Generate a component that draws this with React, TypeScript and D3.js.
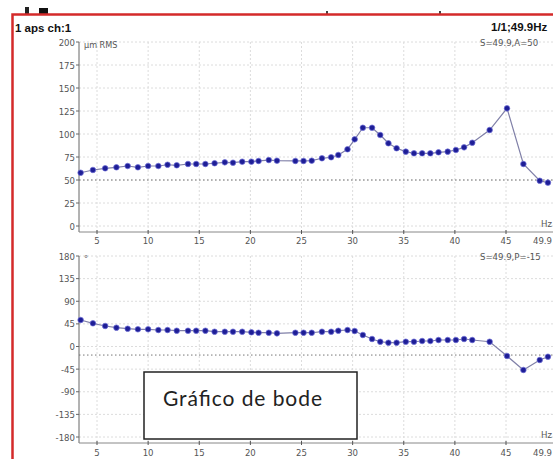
import React from "react";
import * as d3 from "d3";

const freqs = [3.4,4.6,5.8,6.9,8.0,9.0,10.0,11.0,11.9,12.8,13.9,14.7,15.6,16.5,17.5,18.3,19.2,20.1,20.8,21.8,22.6,24.4,25.2,26.0,27.0,27.9,28.6,29.5,30.2,31.0,31.9,32.7,33.5,34.3,35.2,36.0,36.8,37.6,38.4,39.3,40.1,40.9,41.7,43.4,45.1,46.7,48.3,49.1];
const amplitude = [57.9,60.9,62.7,63.8,65.2,63.8,65.2,65.2,66.6,66.0,67.4,67.4,67.4,68.2,69.2,68.8,69.9,69.9,70.7,71.7,71.0,70.7,70.7,71.0,73.6,74.7,77.2,83.4,94.2,106.8,106.8,98.9,89.9,84.5,80.8,79.0,79.0,79.0,80.1,80.8,82.6,85.5,90.5,104.3,127.9,67.4,49.2,47.1];
const phase = [52.7,46.1,40.8,37.4,35.4,34.2,34.2,32.8,32.8,31.4,31.4,31.4,31.4,29.4,29.4,29.4,29.4,28.2,27.4,27.4,26.2,27.4,27.4,27.4,29.4,29.4,31.4,32.8,30.8,22.9,14.9,9.5,7.6,7.6,9.5,9.5,10.9,10.9,12.9,12.9,12.9,14.9,12.9,9.5,-18.9,-46.7,-26.8,-20.3];
const xTicks = [5,10,15,20,25,30,35,40,45,49.9];
const xTickLabels = ["5","10","15","20","25","30","35","40","45","49.9"];
const ampTicks = [0,25,50,75,100,125,150,175,200];
const phaseTicks = [-180,-135,-90,-45,0,45,90,135,180];
const ampRef = 50;
const phaseRef = -17;

const AXIS_FONT = "'Liberation Sans Narrow', 'DejaVu Sans Condensed', Arial, sans-serif";

function Panel({ values, ticks, yRange, axisY, unit, refVal, info, labelY }: any) {
  const x = d3.scaleLinear().domain([5, 45]).range([97, 506]);
  const y = d3.scaleLinear().domain([ticks[0], ticks[ticks.length - 1]]).range(yRange);
  const left = 79;
  const right = 553;
  const top = yRange[1];
  const line = d3.line<number>().x((_, i) => x(freqs[i])).y((d) => y(d));
  return (
    <g>
      {xTicks.map((t) => (
        <line key={"gx" + t} x1={x(t)} x2={x(t)} y1={top} y2={axisY} stroke="#dcdcdc" strokeDasharray="2 2" />
      ))}
      {ticks.map((t: number) => (
        <line key={"gy" + t} x1={left} x2={right} y1={y(t)} y2={y(t)} stroke="#dcdcdc" strokeDasharray="2 2" />
      ))}
      <line x1={left} x2={right} y1={y(refVal)} y2={y(refVal)} stroke="#777" strokeDasharray="1.5 2.5" />
      <line x1={left} x2={left} y1={top} y2={axisY} stroke="#666" />
      <line x1={left} x2={right} y1={axisY} y2={axisY} stroke="#888" />
      {ticks.map((t: number) => (
        <g key={"ty" + t}>
          <line x1={left - 3} x2={left} y1={y(t)} y2={y(t)} stroke="#666" />
          <text x={left - 4} y={y(t) + 3.5} textAnchor="end" fontSize={9.5} fill="#555" fontFamily={AXIS_FONT}>{t}</text>
        </g>
      ))}
      {xTicks.map((t, i) => {
        const last = i === xTicks.length - 1;
        return (
          <g key={"tx" + t}>
            <line x1={x(t)} x2={x(t)} y1={axisY - 2} y2={axisY + 2} stroke="#555" />
            <text x={last ? 552 : x(t)} y={labelY} textAnchor={last ? "end" : "middle"} fontSize={9.5} fill="#555" fontFamily={AXIS_FONT}>{xTickLabels[i]}</text>
          </g>
        );
      })}
      <text x={left + 5} y={top + 6} fontSize={9} fill="#555" fontFamily={AXIS_FONT}>{unit}</text>
      <text x={541} y={axisY - 5} fontSize={9.5} fill="#555" fontFamily={AXIS_FONT}>Hz</text>
      <text x={480} y={top + 4} fontSize={9.5} fill="#555" fontFamily={AXIS_FONT}>{info}</text>
      <path d={line(values) || ""} fill="none" stroke="#8080a8" strokeWidth={1.2} />
      {values.map((v: number, i: number) => (
        <circle key={"p" + i} cx={x(freqs[i])} cy={y(v)} r={2.8} fill="#1e1e96" stroke="#7070d8" strokeWidth={0.7} />
      ))}
    </g>
  );
}

export default function App() {
  return (
    <svg width={553} height={459} style={{ position: "absolute", left: 0, top: 0, background: "#fff" }}>
      <rect x={0} y={0} width={553} height={459} fill="#fff" />
      <rect x={25} y={7} width={4} height={7} fill="#222" />
      <rect x={39} y={8} width={9} height={6} fill="#111" />
      <rect x={326} y={11} width={2} height={3} fill="#444" />
      <rect x={439} y={11} width={2} height={3} fill="#444" />
      <rect x={12.5} y={14.5} width={560} height={460} fill="none" stroke="#d42a2a" strokeWidth={2.5} />
      <text x={15} y={32} fontSize={11.5} fontWeight="bold" fill="#111" fontFamily="Arial, 'Liberation Sans', sans-serif">1 aps ch:1</text>
      <text x={491} y={31} fontSize={11.5} fontWeight="bold" fill="#111" fontFamily="Arial, 'Liberation Sans', sans-serif">1/1;49.9Hz</text>
      <Panel values={amplitude} ticks={ampTicks} yRange={[226, 42]} axisY={232} unit="µm RMS" refVal={ampRef} info="S=49.9,A=50" labelY={244} />
      <Panel values={phase} ticks={phaseTicks} yRange={[437, 256]} axisY={443} unit="°" refVal={phaseRef} info="S=49.9,P=-15" labelY={456} />
      <rect x={144} y={372} width={213} height={67} fill="#fff" stroke="#222" strokeWidth={1.5} />
      <text x={163} y={406} fontSize={21} fill="#222" fontFamily="Lato, 'Open Sans', sans-serif" textLength={159} lengthAdjust="spacing">Gráfico de bode</text>
    </svg>
  );
}
